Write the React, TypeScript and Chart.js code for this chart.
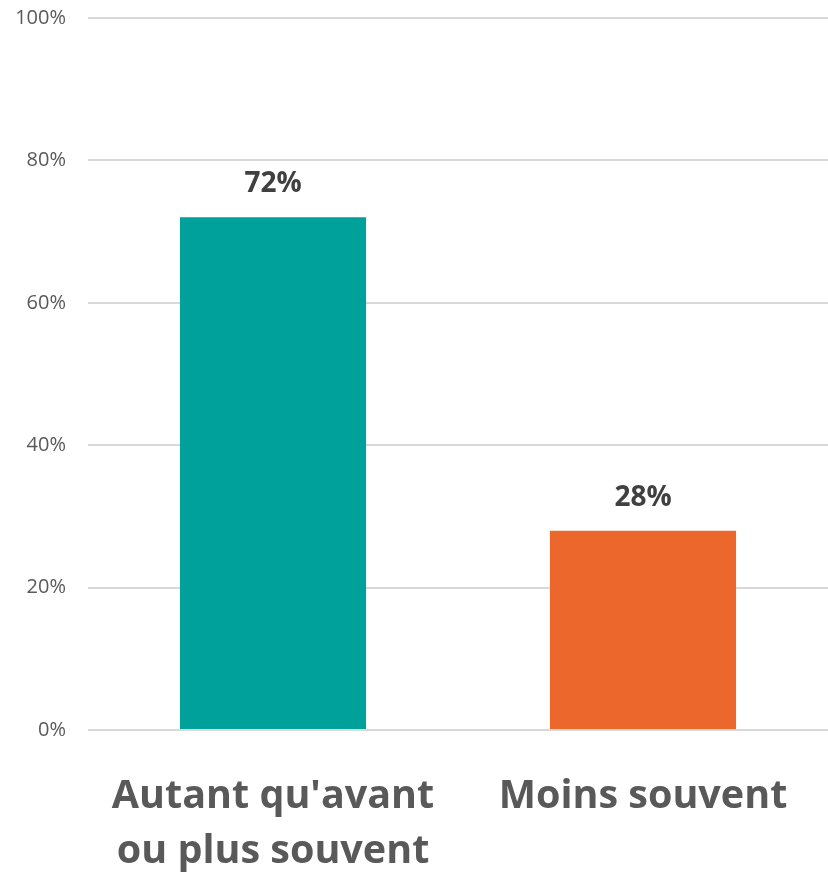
import React, { useEffect, useRef } from "react";
import { Chart, registerables } from "chart.js";

Chart.register(...registerables);

const categories: string[][] = [["Autant qu'avant", "ou plus souvent"], ["Moins souvent"]];
const values: number[] = [72, 28];
const barColors: string[] = ["#00A19A", "#EB672C"];
const yTicks: number[] = [0, 20, 40, 60, 80, 100];

const FONT = "'Open Sans', sans-serif";

const valueLabels = {
  id: "valueLabels",
  afterDatasetsDraw(chart: any) {
    const ctx = chart.ctx;
    const meta = chart.getDatasetMeta(0);
    ctx.save();
    ctx.font = `bold 28px ${FONT}`;
    ctx.fillStyle = "#404040";
    ctx.textAlign = "center";
    ctx.textBaseline = "middle";
    meta.data.forEach((el: any, i: number) => {
      ctx.fillText(`${values[i]}%`, el.x, el.y - 33);
    });
    ctx.restore();
  },
};

export default function App() {
  const ref = useRef<HTMLCanvasElement>(null);
  useEffect(() => {
    if (!ref.current) return;
    const chart = new Chart(ref.current, {
      type: "bar",
      data: {
        labels: categories as any,
        datasets: [
          {
            data: values,
            backgroundColor: barColors,
            barPercentage: 0.503,
            categoryPercentage: 1,
          },
        ],
      },
      options: {
        responsive: false,
        animation: false,
        layout: { padding: 0 },
        plugins: { legend: { display: false }, tooltip: { enabled: false } },
        scales: {
          x: {
            afterFit(scale: any) {
              scale.height = 145;
            },
            grid: { display: false },
            border: { display: false },
            ticks: {
              color: "#595959",
              font: { family: FONT, size: 39.5, weight: "bold", lineHeight: 1.4 },
              padding: 31,
              maxRotation: 0,
              autoSkip: false,
            },
          },
          y: {
            min: 0,
            max: 100,
            afterFit(scale: any) {
              scale.width = 88;
            },
            afterBuildTicks(scale: any) {
              scale.ticks = yTicks.map((v) => ({ value: v }));
            },
            grid: { color: "#D9D9D9", lineWidth: 2, drawTicks: false },
            border: { display: false },
            ticks: {
              color: "#595959",
              font: { family: FONT, size: 20 },
              padding: 22,
              callback: (v: any) => `${v}%`,
            },
          },
        },
      },
      plugins: [valueLabels],
    });
    return () => chart.destroy();
  }, []);
  return (
    <div style={{ position: "fixed", left: 0, top: 0, width: 828, height: 875, background: "#fff", overflow: "hidden" }}>
      <canvas ref={ref} width={828} height={891} style={{ position: "absolute", left: 0, top: -16 }} />
    </div>
  );
}
